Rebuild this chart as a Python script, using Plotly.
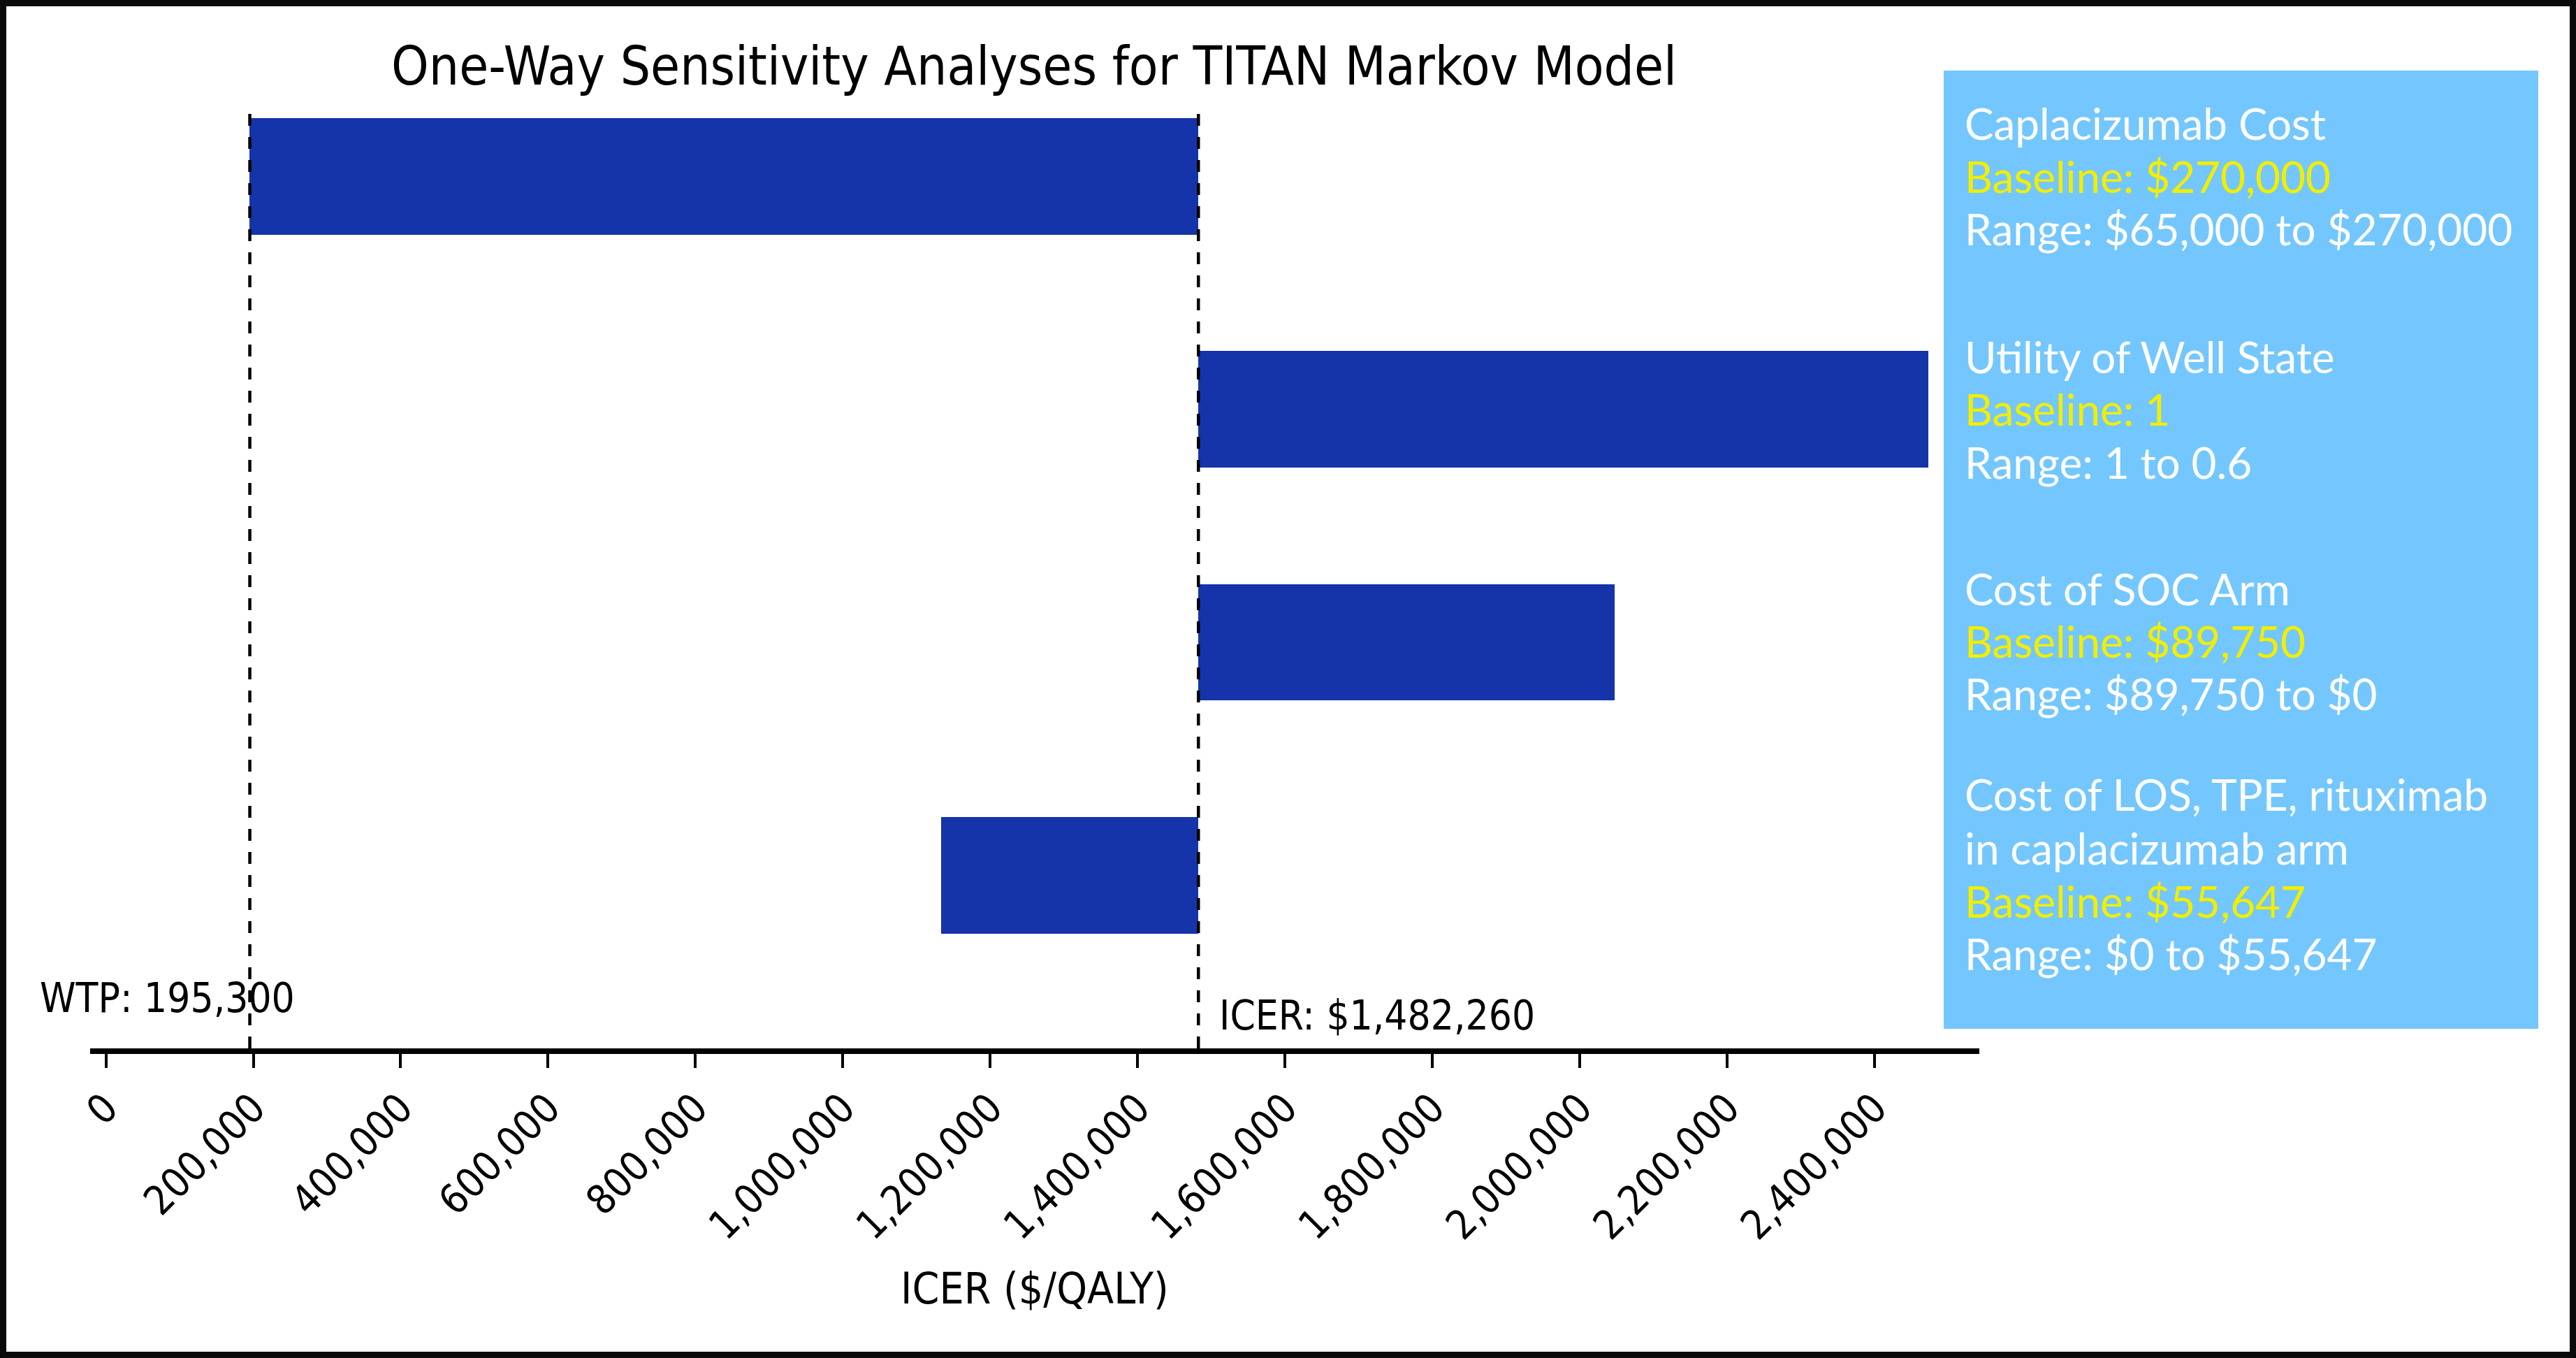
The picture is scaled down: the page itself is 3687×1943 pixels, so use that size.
import plotly.graph_objects as go

# ---- data ----
params = ["Caplacizumab Cost", "Utility of Well State", "Cost of SOC Arm",
          "Cost of LOS, TPE, rituximab in caplacizumab arm"]
low_vals = [195000, 1482260, 1482260, 1133000]
high_vals = [1482260, 2473000, 2047000, 1482260]
wtp = 195300
icer = 1482260
tick_vals = [0, 200000, 400000, 600000, 800000, 1000000, 1200000,
             1400000, 1600000, 1800000, 2000000, 2200000, 2400000]
tick_text = ["0", "200,000", "400,000", "600,000", "800,000", "1,000,000",
             "1,200,000", "1,400,000", "1,600,000", "1,800,000", "2,000,000",
             "2,200,000", "2,400,000"]
legend_entries = [
    (["Caplacizumab Cost"], "Baseline: $270,000", "Range: $65,000 to $270,000"),
    (["Utility of Well State"], "Baseline: 1", "Range: 1 to 0.6"),
    (["Cost of SOC Arm"], "Baseline: $89,750", "Range: $89,750 to $0"),
    (["Cost of LOS, TPE, rituximab", "in caplacizumab arm"], "Baseline: $55,647",
     "Range: $0 to $55,647"),
]

W, H = 3687, 1943
L, R, T, B = 129, 854, 158, 443
PW, PH = W - L - R, H - T - B

def px(xp):
    return (xp - L) / PW

def py(yp):
    return (H - B - yp) / PH

NARROW = "Liberation Sans Narrow, DejaVu Sans Condensed, Roboto Condensed, Arial Narrow, sans-serif"
WIDE = "Lato, Noto Sans, sans-serif"

ypos = list(range(len(params)))
fig = go.Figure()
fig.add_trace(go.Bar(
    y=ypos, x=[h - l for l, h in zip(low_vals, high_vals)], base=low_vals,
    orientation="h", width=0.5, marker=dict(color="#1534AA", line=dict(width=0)),
    hovertext=params, showlegend=False,
))

shapes = []
for v in (wtp, icer):
    shapes.append(dict(type="line", xref="x", yref="paper", x0=v, x1=v, y0=0, y1=1,
                       line=dict(color="black", width=4.5, dash="17px,16px")))
# legend box
shapes.append(dict(type="rect", xref="paper", yref="paper", layer="below",
                   x0=px(2782), x1=px(3633), y0=py(1472), y1=py(101),
                   fillcolor="#74C7FE", line=dict(width=0)))
# frame
shapes.append(dict(type="rect", xref="paper", yref="paper",
                   x0=px(4.5), x1=px(W - 4.5), y0=py(H - 4.5), y1=py(4.5),
                   line=dict(color="#0a0a0a", width=9), fillcolor="rgba(0,0,0,0)"))

annotations = []
annotations.append(dict(text="WTP: 195,300", xref="paper", yref="paper",
                        x=px(55), y=py(1428), xanchor="left", yanchor="middle",
                        showarrow=False, font=dict(family=NARROW, size=58, color="black")))
annotations.append(dict(text="ICER: $1,482,260", xref="paper", yref="paper",
                        x=px(1743), y=py(1453), xanchor="left", yanchor="middle",
                        showarrow=False, font=dict(family=NARROW, size=58, color="black")))
annotations.append(dict(text="ICER ($/QALY)", xref="paper", yref="paper",
                        x=0.5, y=py(1843), xanchor="center", yanchor="middle",
                        showarrow=False, font=dict(family=NARROW, size=62, color="black")))

line_y = [[176, 252, 327], [510, 585, 661], [842, 917, 992], [1136, 1213, 1289, 1364]]
for (names, base, rng), ys in zip(legend_entries, line_y):
    texts = [(n, "white") for n in names] + [(base, "#F2EE00"), (rng, "white")]
    for (t, c), yy in zip(texts, ys):
        annotations.append(dict(text=t, xref="paper", yref="paper", x=px(2810), y=py(yy),
                                xanchor="left", yanchor="middle", showarrow=False,
                                font=dict(family=WIDE, size=62, color=c)))

fig.update_layout(
    width=W, height=H, margin=dict(l=L, r=R, t=T, b=B),
    paper_bgcolor="white", plot_bgcolor="white",
    title=dict(text="One-Way Sensitivity Analyses for TITAN Markov Model",
               x=1480 / W, xanchor="center", y=1 - 94 / H, yanchor="middle",
               font=dict(family=NARROW, size=76, color="black")),
    xaxis=dict(range=[-21327, 2541750], tickvals=tick_vals, ticktext=tick_text,
               tickangle=-45, showgrid=False, zeroline=False, showline=True,
               linecolor="black", linewidth=8, ticks="outside", ticklen=20,
               tickwidth=4, tickcolor="black",
               tickfont=dict(family=NARROW, size=58, color="black")),
    yaxis=dict(range=[3.743, -0.2835], showgrid=False, zeroline=False,
               showline=False, showticklabels=False, ticks=""),
    shapes=shapes, annotations=annotations, bargap=0,
)
fig.write_html("out.html", config={"displayModeBar": False},
               post_script="document.body.style.margin='0';document.body.style.overflow='hidden';")
